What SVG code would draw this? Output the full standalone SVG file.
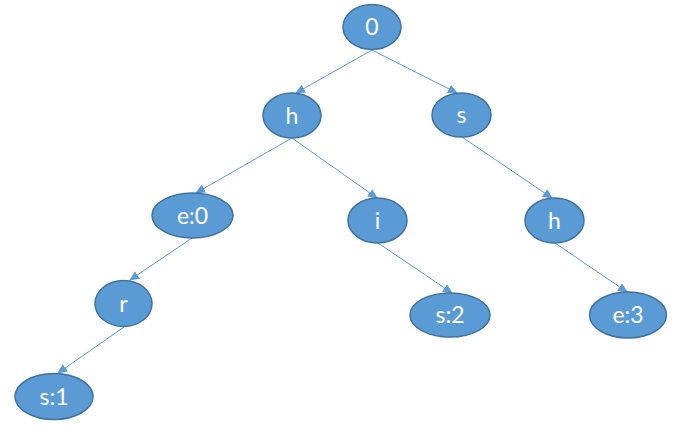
<svg xmlns="http://www.w3.org/2000/svg" width="676" height="427" viewBox="0 0 676 427">
<style>
.n ellipse{fill:#5B9BD5;stroke:#41719C;stroke-width:1.5}
.n text{fill:#fff;font-family:Lato,"Liberation Sans",sans-serif;font-size:23px;text-anchor:middle}
.e line{stroke:#5B9BD5;stroke-width:1;marker-end:url(#a)}
</style>
<defs>
<marker id="a" markerUnits="userSpaceOnUse" markerWidth="10" markerHeight="10" viewBox="0 0 10 10" refX="9" refY="5" orient="auto">
<path d="M0,0.5 L10,5 L0,9.5 Z" fill="#5B9BD5"/>
</marker>
</defs>
<rect width="676" height="427" fill="#fff"/>
<g id="edges" class="e">
<line x1="372" y1="50" x2="296" y2="93"/>
<line x1="372" y1="50" x2="457" y2="93"/>
<line x1="292" y1="138" x2="196" y2="193"/>
<line x1="292" y1="138" x2="377" y2="198"/>
<line x1="462" y1="137" x2="552" y2="198"/>
<line x1="192" y1="238" x2="130" y2="280"/>
<line x1="378" y1="243" x2="452" y2="293"/>
<line x1="555" y1="243" x2="627" y2="292"/>
<line x1="124" y1="327" x2="58" y2="373"/>
</g>
<g id="n0" class="n"><ellipse cx="372" cy="27" rx="29" ry="22.5"/><text x="372" y="35">0</text></g>
<g id="nh" class="n"><ellipse cx="292" cy="115.5" rx="29" ry="22.5"/><text x="292" y="123.5">h</text></g>
<g id="ns" class="n"><ellipse cx="461.5" cy="115" rx="29.5" ry="22"/><text x="461.5" y="123">s</text></g>
<g id="ne0" class="n"><ellipse cx="192.5" cy="215.5" rx="40.5" ry="22.5"/><text x="192.5" y="223.5">e:0</text></g>
<g id="ni" class="n"><ellipse cx="377.5" cy="220.5" rx="29.5" ry="22.5"/><text x="377.5" y="228.5">i</text></g>
<g id="nh2" class="n"><ellipse cx="554.5" cy="220.5" rx="29.5" ry="22.5"/><text x="554.5" y="228.5">h</text></g>
<g id="nr" class="n"><ellipse cx="123.5" cy="303.5" rx="28.5" ry="23"/><text x="123.5" y="311.5">r</text></g>
<g id="ns2" class="n"><ellipse cx="450" cy="315" rx="40" ry="22"/><text x="450" y="323">s:2</text></g>
<g id="ne3" class="n"><ellipse cx="628" cy="315" rx="38.5" ry="23"/><text x="628" y="323">e:3</text></g>
<g id="ns1" class="n"><ellipse cx="54" cy="396.5" rx="39" ry="23"/><text x="54" y="404.5">s:1</text></g>
</svg>
